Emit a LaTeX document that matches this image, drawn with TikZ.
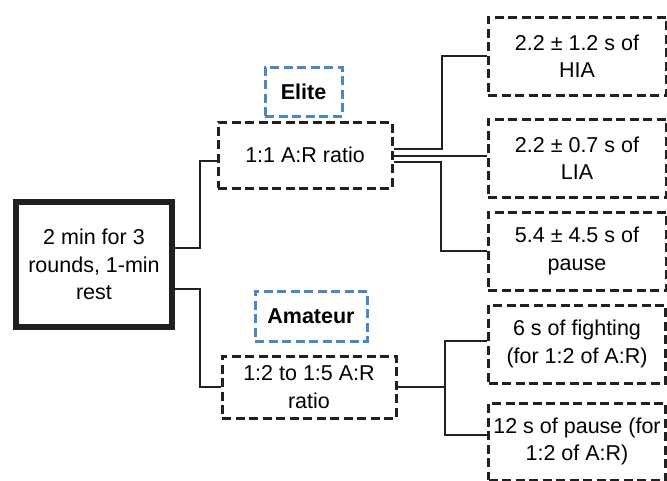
\documentclass[tikz,border=0pt]{standalone}
\usepackage{fontspec}
\setmainfont{Liberation Sans}
\definecolor{ink}{HTML}{231F20}
\definecolor{blu}{HTML}{4A86C6}
\newcommand{\fs}{\fontsize{21.5pt}{27.5pt}\selectfont}
\begin{document}
\begin{tikzpicture}[x=1pt,y=-1pt,
  dbox/.style={draw=ink,line width=3pt,dash pattern=on 9pt off 4.5pt,inner sep=0pt,align=center,font=\fs},
  lbox/.style={draw=blu,line width=3pt,dash pattern=on 9pt off 4.5pt,inner sep=0pt,align=center,font=\fs\bfseries},
  mbox/.style={draw=ink,line width=6pt,inner sep=0pt,align=center,font=\fs},
  conn/.style={draw=ink,line width=2pt}]
\useasboundingbox (0,0) rectangle (667,480);
\fill[white] (0,0) rectangle (667,480);
% nodes
\node[mbox,minimum width=156pt,minimum height=125pt] (main) at (94,264.5) {2 min for 3\\rounds, 1-min\\rest};
\node[lbox,minimum width=77pt,minimum height=49pt] (elite) at (303.5,91.5) {Elite};
\node[dbox,minimum width=174pt,minimum height=66pt] (r1) at (305,155) {1:1 A:R ratio};
\node[lbox,minimum width=112pt,minimum height=50pt] (amat) at (311,316) {Amateur};
\node[dbox,minimum width=174pt,minimum height=62pt] (r2) at (309,387) {1:2 to 1:5 A:R\\ratio};
\node[dbox,minimum width=178pt,minimum height=78pt] (hia) at (577,56) {2.2 ± 1.2 s of\\HIA};
\node[dbox,minimum width=178pt,minimum height=78pt] (lia) at (577,158) {2.2 ± 0.7 s of\\LIA};
\node[dbox,minimum width=178pt,minimum height=78pt] (pau) at (577,251) {5.4 ± 4.5 s of\\pause};
\node[dbox,minimum width=177pt,minimum height=78pt] (fig) at (577,344) {6 s of fighting\\(for 1:2 of A:R)};
\node[dbox,minimum width=177pt,minimum height=77pt] (pa2) at (577,441.5) {12 s of pause (for\\1:2 of A:R)};
% connectors
\draw[conn] ([yshift=16.5pt]main.east) -- ++(25,0) |- ([yshift=-6pt]r1.west);
\draw[conn] ([yshift=-24.5pt]main.east) -- ++(25,0) |- (r2.west);
\draw[conn] ([yshift=6pt]r1.east) -- ++(48,0) |- (hia.west);
\draw[conn] ([yshift=-1pt]r1.east) -- ([yshift=-1pt]r1.east -| lia.west);
\draw[conn] ([yshift=-7pt]r1.east) -- ++(47,0) |- (pau.west);
\draw[conn] (r2.east) -- ++(47,0) coordinate (j2);
\draw[conn] (j2) |- ([yshift=3pt]fig.west);
\draw[conn] (j2) |- ([yshift=6.5pt]pa2.west);
\end{tikzpicture}
\end{document}
